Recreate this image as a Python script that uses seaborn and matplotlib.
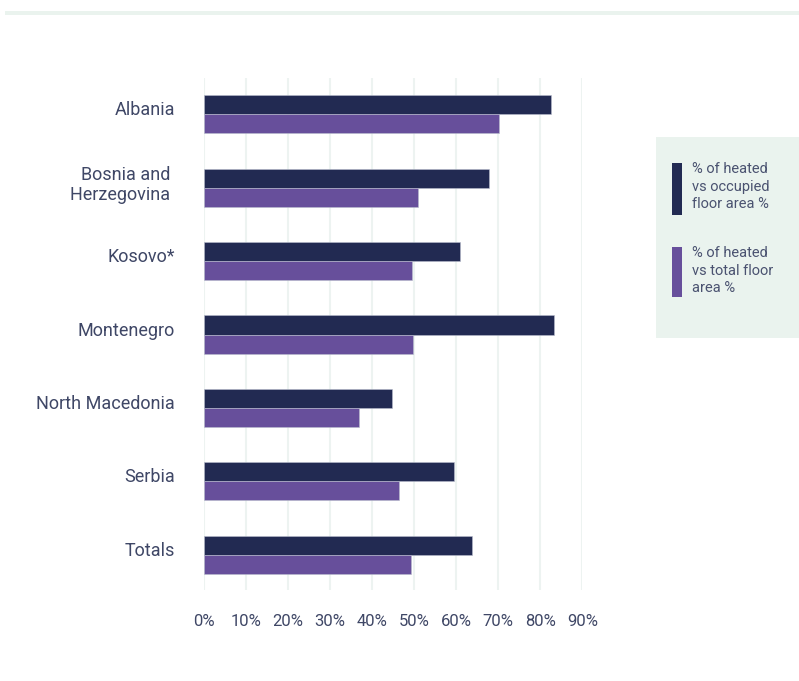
import pandas as pd
import matplotlib.pyplot as plt
import seaborn as sns
from matplotlib.patches import Rectangle
from matplotlib.transforms import ScaledTranslation

# data
countries = ['Albania', 'Bosnia and \nHerzegovina ', 'Kosovo*', 'Montenegro',
             'North Macedonia', 'Serbia', 'Totals']
occupied = [82.5, 67.7, 61.0, 83.2, 44.7, 59.4, 63.7]
total = [70.3, 51.0, 49.4, 49.8, 36.9, 46.3, 49.2]
series = ['% of heated\nvs occupied\nfloor area %', '% of heated\nvs total floor\narea %']
colors = ['#222A52', '#674F9B']
xticks = list(range(0, 100, 10))

df = pd.DataFrame({'country': countries * 2,
                   'value': occupied + total,
                   'series': [series[0]] * 7 + [series[1]] * 7})

sns.set_style('white')
plt.rcParams['font.family'] = ['Roboto', 'DejaVu Sans']
text_col = '#3F4766'

fig = plt.figure(figsize=(7.99, 6.81), dpi=100)
W, H = 799, 681
ax = fig.add_axes([204 / W, 1 - 590 / H, (582.3 - 204) / W, (590 - 78) / H])

sns.barplot(data=df, y='country', x='value', hue='series', palette=colors,
            orient='h', width=0.52, ax=ax, legend=False, saturation=1,
            edgecolor='#b8bccc', linewidth=0.4)

ax.set_xlim(0, 90)
ax.set_ylim(6.48, -0.494)
ax.set_xticks(xticks)
ax.set_xticklabels([f'{t}%' for t in xticks], color=text_col, fontsize=12)
ax.tick_params(axis='x', length=0, pad=17)
ax.tick_params(axis='y', length=0, pad=21, labelsize=13, labelcolor=text_col)
ax.set_xlabel('')
ax.set_ylabel('')
ax.grid(axis='x', color='#EDF3F1', linewidth=1.5)
ax.set_axisbelow(True)
for s in ax.spines.values():
    s.set_visible(False)

# labels sit a little above the middle of each pair of bars
up = ScaledTranslation(0, 6 / 100, fig.dpi_scale_trans)
for lab in ax.get_yticklabels():
    lab.set_transform(lab.get_transform() + up)

# top stripe
fig.add_artist(Rectangle((5 / W, 1 - 15 / H), 794 / W, 4 / H,
                         transform=fig.transFigure, color='#EAF3EE', lw=0))

# legend box
fig.add_artist(Rectangle((656 / W, 1 - 338 / H), 143 / W, 201 / H,
                         transform=fig.transFigure, color='#EAF3EE', lw=0))
for i, (lab, c) in enumerate(zip(series, colors)):
    top = 163 + i * 84
    hgt = 52 if i == 0 else 50
    fig.add_artist(Rectangle((672 / W, 1 - (top + hgt) / H), 10 / W, hgt / H,
                             transform=fig.transFigure, color=c, lw=0))
    fig.text(692 / W, 1 - (top - 1) / H, lab, fontsize=10.5, color='#4A5270',
             va='top', ha='left', linespacing=1.32)

plt.savefig('out.png', dpi=100, facecolor='white')
